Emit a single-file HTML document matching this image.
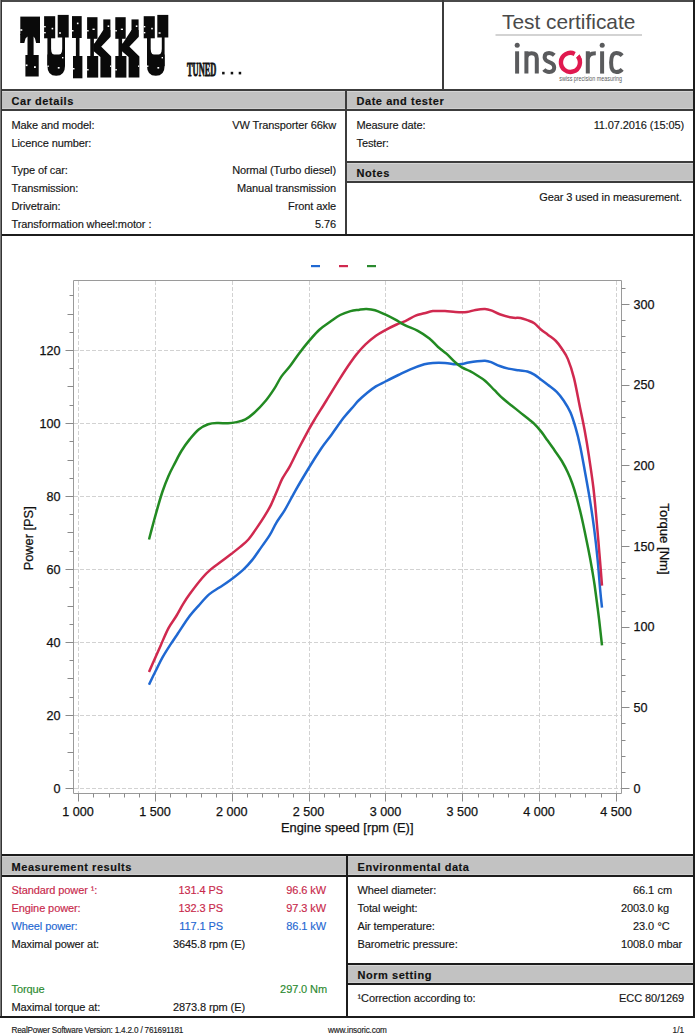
<!DOCTYPE html>
<html><head><meta charset="utf-8"><title>Test certificate</title>
<style>
html,body{margin:0;padding:0;background:#fff;}
body{width:695px;height:1034px;position:relative;overflow:hidden;font-family:"Liberation Sans",sans-serif;}
</style></head><body>
<svg style="position:absolute;left:0;top:0" width="695" height="1034" viewBox="0 0 695 1034" font-family="Liberation Sans, sans-serif"><text x="502" y="28.5" font-size="20.2" fill="#4a4a4a" textLength="133.4" lengthAdjust="spacingAndGlyphs">Test certificate</text>
<rect x="495.5" y="34.5" width="146.5" height="1" fill="#a8a8a8"/>
<g fill="none" stroke="#5a5b5d" stroke-width="4.0">
<line x1="517.1" y1="51.3" x2="517.1" y2="73.6"/>
<path d="M526.4,51.3 V73.6 M526.4,58.5 Q526.4,53.3 531.6,53.3 Q536.8,53.3 536.8,58.5 V73.6"/>
<path d="M554.3,55.2 Q552,53 549.1,53 Q544.6,53 544.6,57.3 Q544.6,60.6 549.3,62.2 Q554.2,63.8 554.2,67.6 Q554.2,72 549.2,72 Q545.8,72 543.9,69.6"/>
<path d="M587.8,51.3 V73.6 M587.8,59.5 Q587.8,53.2 595.8,53.2"/>
<line x1="602.1" y1="51.3" x2="602.1" y2="73.6"/>
<path d="M622.2,55.6 Q619.8,53 616.2,53 Q611.1,53 611.1,62.5 Q611.1,72 616.2,72 Q619.8,72 622.2,69.3"/>
</g>
<circle cx="517.2" cy="45.2" r="2.5" fill="#5a5b5d"/>
<circle cx="602.2" cy="45.2" r="2.5" fill="#5a5b5d"/>
<path d="M574.71,53.94 A9.5,9.5 0 1 0 577.68,56.29" fill="none" stroke="#e0194f" stroke-width="4.4"/>
<polygon points="576.5,57.5 579.6,54.3 582.2,60" fill="#e0194f"/>
<text x="559.2" y="80.6" font-size="6.6" fill="#5a5b5d" textLength="62.7" lengthAdjust="spacingAndGlyphs">swiss precision measuring</text>
<rect x="20.3" y="16.6" width="19.7" height="18.2" fill="#0a0a0a"/>
<polygon points="20.2,34.0 40.0,34.0 40.0,43.0 36.1,43.0 35.0,38.5 33.6,36.5 33.6,56.0 27.5,56.0 27.5,36.5 25.5,38.5 24.3,43.0 20.2,43.0" fill="#0a0a0a"/>
<rect x="25.4" y="55.0" width="13.3" height="21.5" fill="#0a0a0a"/>
<rect x="44.1" y="16.2" width="11.1" height="22.1" fill="#0a0a0a"/>
<rect x="57.7" y="14.9" width="11.0" height="22.6" fill="#0a0a0a"/>
<path fill-rule="evenodd" fill="#0a0a0a" d="M47.4,37 L47.4,66 Q47.4,75.8 56.2,75.8 Q65.0,75.8 65.0,66 L65.0,37 Z M51.1,37 L51.1,49 Q51.1,55.5 56.6,55.5 Q62.2,55.5 62.2,49 L62.2,37 Z"/>
<rect x="47.4" y="54.5" width="17.6" height="11.5" fill="#0a0a0a"/>
<rect x="72.0" y="16.1" width="9.7" height="21.9" fill="#0a0a0a"/>
<rect x="75.9" y="37.5" width="3.6" height="19.0" fill="#0a0a0a"/>
<rect x="73.0" y="56.0" width="9.4" height="22.3" fill="#0a0a0a"/>
<rect x="87.1" y="17.2" width="10.4" height="21.6" fill="#0a0a0a"/>
<rect x="90.3" y="38.0" width="3.6" height="18.5" fill="#0a0a0a"/>
<rect x="87.1" y="56.0" width="11.1" height="21.6" fill="#0a0a0a"/>
<rect x="103.3" y="19.4" width="7.1" height="17.2" fill="#0a0a0a"/>
<polygon points="103.3,30.0 110.4,30.0 110.4,37.0 97.5,50.5 93.5,50.5 93.5,45.0" fill="#0a0a0a"/>
<polygon points="93.5,43.5 98.0,43.5 111.2,56.5 111.2,77.6 100.4,77.6 100.4,57.0 93.5,51.0" fill="#0a0a0a"/>
<rect x="115.3" y="17.2" width="10.4" height="21.6" fill="#0a0a0a"/>
<rect x="118.5" y="38.0" width="3.6" height="18.5" fill="#0a0a0a"/>
<rect x="115.3" y="56.0" width="11.1" height="21.6" fill="#0a0a0a"/>
<rect x="131.5" y="19.4" width="7.1" height="17.2" fill="#0a0a0a"/>
<polygon points="131.5,30.0 138.6,30.0 138.6,37.0 125.7,50.5 121.7,50.5 121.7,45.0" fill="#0a0a0a"/>
<polygon points="121.7,43.5 126.2,43.5 139.4,56.5 139.4,77.6 128.6,77.6 128.6,57.0 121.7,51.0" fill="#0a0a0a"/>
<rect x="143.7" y="16.2" width="11.1" height="22.1" fill="#0a0a0a"/>
<rect x="157.3" y="14.9" width="11.0" height="22.6" fill="#0a0a0a"/>
<path fill-rule="evenodd" fill="#0a0a0a" d="M147.0,37 L147.0,66 Q147.0,75.8 155.8,75.8 Q164.6,75.8 164.6,66 L164.6,37 Z M150.7,37 L150.7,49 Q150.7,55.5 156.2,55.5 Q161.8,55.5 161.8,49 L161.8,37 Z"/>
<rect x="147.0" y="54.5" width="17.6" height="11.5" fill="#0a0a0a"/>
<rect x="20.3" y="29.2" width="2.0" height="1.6" fill="#fff"/>
<rect x="25.7" y="64.5" width="1.8" height="1.6" fill="#fff"/>
<rect x="34.0" y="66.2" width="1.8" height="1.8" fill="#fff"/>
<rect x="44.1" y="26.0" width="1.6" height="1.4" fill="#fff"/>
<rect x="44.1" y="32.0" width="1.6" height="1.4" fill="#fff"/>
<rect x="51.6" y="27.8" width="1.6" height="1.6" fill="#fff"/>
<rect x="59.0" y="32.3" width="2.0" height="1.4" fill="#fff"/>
<rect x="47.4" y="65.5" width="1.4" height="1.4" fill="#fff"/>
<rect x="62.0" y="57.0" width="1.4" height="1.4" fill="#fff"/>
<rect x="57.8" y="67.0" width="1.8" height="1.6" fill="#fff"/>
<rect x="72.0" y="30.0" width="1.5" height="1.5" fill="#fff"/>
<rect x="76.9" y="22.6" width="1.6" height="1.6" fill="#fff"/>
<rect x="73.0" y="68.0" width="1.5" height="1.5" fill="#fff"/>
<rect x="87.1" y="30.0" width="1.5" height="1.5" fill="#fff"/>
<rect x="92.5" y="28.6" width="2.2" height="1.4" fill="#fff"/>
<rect x="107.6" y="25.4" width="1.6" height="1.6" fill="#fff"/>
<rect x="87.1" y="69.0" width="1.5" height="1.5" fill="#fff"/>
<rect x="110.0" y="65.5" width="1.2" height="1.4" fill="#fff"/>
<rect x="115.3" y="30.0" width="1.5" height="1.5" fill="#fff"/>
<rect x="120.8" y="28.6" width="2.2" height="1.4" fill="#fff"/>
<rect x="135.8" y="25.4" width="1.6" height="1.6" fill="#fff"/>
<rect x="115.3" y="69.0" width="1.5" height="1.5" fill="#fff"/>
<rect x="138.0" y="65.5" width="1.2" height="1.4" fill="#fff"/>
<rect x="143.7" y="26.0" width="1.6" height="1.4" fill="#fff"/>
<rect x="143.7" y="32.0" width="1.6" height="1.4" fill="#fff"/>
<rect x="151.2" y="27.8" width="1.6" height="1.6" fill="#fff"/>
<rect x="158.6" y="32.3" width="2.0" height="1.4" fill="#fff"/>
<rect x="147.0" y="65.5" width="1.4" height="1.4" fill="#fff"/>
<rect x="161.6" y="57.0" width="1.4" height="1.4" fill="#fff"/>
<rect x="157.4" y="67.0" width="1.8" height="1.6" fill="#fff"/>
<text x="187" y="75.6" font-family="Liberation Serif" font-weight="bold" font-size="19" fill="#111" stroke="#111" stroke-width="0.9" textLength="29.3" lengthAdjust="spacingAndGlyphs">TUNED</text>
<rect x="222.10000000000002" y="71.8" width="2.5" height="2.6" fill="#111"/>
<rect x="230.70000000000002" y="71.8" width="2.5" height="2.6" fill="#111"/>
<rect x="238.70000000000002" y="71.8" width="2.5" height="2.6" fill="#111"/>
<path d="M73.5,793.5 L73.5,280.5 L621.5,280.5 L621.5,793.5 Z" fill="none" stroke="#9a9a9a" stroke-width="1"/>
<line x1="78.5" y1="281" x2="78.5" y2="793" stroke="#d2d2d2" stroke-width="1" stroke-dasharray="4,2"/>
<line x1="155.5" y1="281" x2="155.5" y2="793" stroke="#d2d2d2" stroke-width="1" stroke-dasharray="4,2"/>
<line x1="232.5" y1="281" x2="232.5" y2="793" stroke="#d2d2d2" stroke-width="1" stroke-dasharray="4,2"/>
<line x1="309.5" y1="281" x2="309.5" y2="793" stroke="#d2d2d2" stroke-width="1" stroke-dasharray="4,2"/>
<line x1="385.5" y1="281" x2="385.5" y2="793" stroke="#d2d2d2" stroke-width="1" stroke-dasharray="4,2"/>
<line x1="462.5" y1="281" x2="462.5" y2="793" stroke="#d2d2d2" stroke-width="1" stroke-dasharray="4,2"/>
<line x1="539.5" y1="281" x2="539.5" y2="793" stroke="#d2d2d2" stroke-width="1" stroke-dasharray="4,2"/>
<line x1="616.5" y1="281" x2="616.5" y2="793" stroke="#d2d2d2" stroke-width="1" stroke-dasharray="4,2"/>
<line x1="74" y1="788.5" x2="621" y2="788.5" stroke="#d2d2d2" stroke-width="1" stroke-dasharray="4,2"/>
<line x1="74" y1="715.5" x2="621" y2="715.5" stroke="#d2d2d2" stroke-width="1" stroke-dasharray="4,2"/>
<line x1="74" y1="642.5" x2="621" y2="642.5" stroke="#d2d2d2" stroke-width="1" stroke-dasharray="4,2"/>
<line x1="74" y1="569.5" x2="621" y2="569.5" stroke="#d2d2d2" stroke-width="1" stroke-dasharray="4,2"/>
<line x1="74" y1="496.5" x2="621" y2="496.5" stroke="#d2d2d2" stroke-width="1" stroke-dasharray="4,2"/>
<line x1="74" y1="423.5" x2="621" y2="423.5" stroke="#d2d2d2" stroke-width="1" stroke-dasharray="4,2"/>
<line x1="74" y1="350.5" x2="621" y2="350.5" stroke="#d2d2d2" stroke-width="1" stroke-dasharray="4,2"/>
<line x1="65.5" y1="788.5" x2="73.5" y2="788.5" stroke="#8a8a8a" stroke-width="1"/>
<line x1="69.5" y1="770.5" x2="73.5" y2="770.5" stroke="#8a8a8a" stroke-width="1"/>
<line x1="67.5" y1="752.5" x2="73.5" y2="752.5" stroke="#8a8a8a" stroke-width="1"/>
<line x1="69.5" y1="733.5" x2="73.5" y2="733.5" stroke="#8a8a8a" stroke-width="1"/>
<line x1="65.5" y1="715.5" x2="73.5" y2="715.5" stroke="#8a8a8a" stroke-width="1"/>
<line x1="69.5" y1="697.5" x2="73.5" y2="697.5" stroke="#8a8a8a" stroke-width="1"/>
<line x1="67.5" y1="678.5" x2="73.5" y2="678.5" stroke="#8a8a8a" stroke-width="1"/>
<line x1="69.5" y1="660.5" x2="73.5" y2="660.5" stroke="#8a8a8a" stroke-width="1"/>
<line x1="65.5" y1="642.5" x2="73.5" y2="642.5" stroke="#8a8a8a" stroke-width="1"/>
<line x1="69.5" y1="624.5" x2="73.5" y2="624.5" stroke="#8a8a8a" stroke-width="1"/>
<line x1="67.5" y1="606.5" x2="73.5" y2="606.5" stroke="#8a8a8a" stroke-width="1"/>
<line x1="69.5" y1="587.5" x2="73.5" y2="587.5" stroke="#8a8a8a" stroke-width="1"/>
<line x1="65.5" y1="569.5" x2="73.5" y2="569.5" stroke="#8a8a8a" stroke-width="1"/>
<line x1="69.5" y1="551.5" x2="73.5" y2="551.5" stroke="#8a8a8a" stroke-width="1"/>
<line x1="67.5" y1="532.5" x2="73.5" y2="532.5" stroke="#8a8a8a" stroke-width="1"/>
<line x1="69.5" y1="514.5" x2="73.5" y2="514.5" stroke="#8a8a8a" stroke-width="1"/>
<line x1="65.5" y1="496.5" x2="73.5" y2="496.5" stroke="#8a8a8a" stroke-width="1"/>
<line x1="69.5" y1="478.5" x2="73.5" y2="478.5" stroke="#8a8a8a" stroke-width="1"/>
<line x1="67.5" y1="460.5" x2="73.5" y2="460.5" stroke="#8a8a8a" stroke-width="1"/>
<line x1="69.5" y1="441.5" x2="73.5" y2="441.5" stroke="#8a8a8a" stroke-width="1"/>
<line x1="65.5" y1="423.5" x2="73.5" y2="423.5" stroke="#8a8a8a" stroke-width="1"/>
<line x1="69.5" y1="405.5" x2="73.5" y2="405.5" stroke="#8a8a8a" stroke-width="1"/>
<line x1="67.5" y1="386.5" x2="73.5" y2="386.5" stroke="#8a8a8a" stroke-width="1"/>
<line x1="69.5" y1="368.5" x2="73.5" y2="368.5" stroke="#8a8a8a" stroke-width="1"/>
<line x1="65.5" y1="350.5" x2="73.5" y2="350.5" stroke="#8a8a8a" stroke-width="1"/>
<line x1="69.5" y1="332.5" x2="73.5" y2="332.5" stroke="#8a8a8a" stroke-width="1"/>
<line x1="67.5" y1="314.5" x2="73.5" y2="314.5" stroke="#8a8a8a" stroke-width="1"/>
<line x1="69.5" y1="295.5" x2="73.5" y2="295.5" stroke="#8a8a8a" stroke-width="1"/>
<line x1="621.5" y1="788.5" x2="629.5" y2="788.5" stroke="#8a8a8a" stroke-width="1"/>
<line x1="621.5" y1="772.5" x2="625.5" y2="772.5" stroke="#8a8a8a" stroke-width="1"/>
<line x1="621.5" y1="756.5" x2="625.5" y2="756.5" stroke="#8a8a8a" stroke-width="1"/>
<line x1="621.5" y1="740.5" x2="625.5" y2="740.5" stroke="#8a8a8a" stroke-width="1"/>
<line x1="621.5" y1="723.5" x2="625.5" y2="723.5" stroke="#8a8a8a" stroke-width="1"/>
<line x1="621.5" y1="707.5" x2="629.5" y2="707.5" stroke="#8a8a8a" stroke-width="1"/>
<line x1="621.5" y1="691.5" x2="625.5" y2="691.5" stroke="#8a8a8a" stroke-width="1"/>
<line x1="621.5" y1="675.5" x2="625.5" y2="675.5" stroke="#8a8a8a" stroke-width="1"/>
<line x1="621.5" y1="659.5" x2="625.5" y2="659.5" stroke="#8a8a8a" stroke-width="1"/>
<line x1="621.5" y1="643.5" x2="625.5" y2="643.5" stroke="#8a8a8a" stroke-width="1"/>
<line x1="621.5" y1="627.5" x2="629.5" y2="627.5" stroke="#8a8a8a" stroke-width="1"/>
<line x1="621.5" y1="611.5" x2="625.5" y2="611.5" stroke="#8a8a8a" stroke-width="1"/>
<line x1="621.5" y1="594.5" x2="625.5" y2="594.5" stroke="#8a8a8a" stroke-width="1"/>
<line x1="621.5" y1="578.5" x2="625.5" y2="578.5" stroke="#8a8a8a" stroke-width="1"/>
<line x1="621.5" y1="562.5" x2="625.5" y2="562.5" stroke="#8a8a8a" stroke-width="1"/>
<line x1="621.5" y1="546.5" x2="629.5" y2="546.5" stroke="#8a8a8a" stroke-width="1"/>
<line x1="621.5" y1="530.5" x2="625.5" y2="530.5" stroke="#8a8a8a" stroke-width="1"/>
<line x1="621.5" y1="514.5" x2="625.5" y2="514.5" stroke="#8a8a8a" stroke-width="1"/>
<line x1="621.5" y1="498.5" x2="625.5" y2="498.5" stroke="#8a8a8a" stroke-width="1"/>
<line x1="621.5" y1="481.5" x2="625.5" y2="481.5" stroke="#8a8a8a" stroke-width="1"/>
<line x1="621.5" y1="465.5" x2="629.5" y2="465.5" stroke="#8a8a8a" stroke-width="1"/>
<line x1="621.5" y1="449.5" x2="625.5" y2="449.5" stroke="#8a8a8a" stroke-width="1"/>
<line x1="621.5" y1="433.5" x2="625.5" y2="433.5" stroke="#8a8a8a" stroke-width="1"/>
<line x1="621.5" y1="417.5" x2="625.5" y2="417.5" stroke="#8a8a8a" stroke-width="1"/>
<line x1="621.5" y1="401.5" x2="625.5" y2="401.5" stroke="#8a8a8a" stroke-width="1"/>
<line x1="621.5" y1="385.5" x2="629.5" y2="385.5" stroke="#8a8a8a" stroke-width="1"/>
<line x1="621.5" y1="369.5" x2="625.5" y2="369.5" stroke="#8a8a8a" stroke-width="1"/>
<line x1="621.5" y1="352.5" x2="625.5" y2="352.5" stroke="#8a8a8a" stroke-width="1"/>
<line x1="621.5" y1="336.5" x2="625.5" y2="336.5" stroke="#8a8a8a" stroke-width="1"/>
<line x1="621.5" y1="320.5" x2="625.5" y2="320.5" stroke="#8a8a8a" stroke-width="1"/>
<line x1="621.5" y1="304.5" x2="629.5" y2="304.5" stroke="#8a8a8a" stroke-width="1"/>
<line x1="621.5" y1="288.5" x2="625.5" y2="288.5" stroke="#8a8a8a" stroke-width="1"/>
<line x1="78.5" y1="793.5" x2="78.5" y2="801.5" stroke="#8a8a8a" stroke-width="1"/>
<line x1="93.5" y1="793.5" x2="93.5" y2="797.5" stroke="#8a8a8a" stroke-width="1"/>
<line x1="109.5" y1="793.5" x2="109.5" y2="797.5" stroke="#8a8a8a" stroke-width="1"/>
<line x1="124.5" y1="793.5" x2="124.5" y2="797.5" stroke="#8a8a8a" stroke-width="1"/>
<line x1="139.5" y1="793.5" x2="139.5" y2="797.5" stroke="#8a8a8a" stroke-width="1"/>
<line x1="155.5" y1="793.5" x2="155.5" y2="801.5" stroke="#8a8a8a" stroke-width="1"/>
<line x1="170.5" y1="793.5" x2="170.5" y2="797.5" stroke="#8a8a8a" stroke-width="1"/>
<line x1="186.5" y1="793.5" x2="186.5" y2="797.5" stroke="#8a8a8a" stroke-width="1"/>
<line x1="201.5" y1="793.5" x2="201.5" y2="797.5" stroke="#8a8a8a" stroke-width="1"/>
<line x1="216.5" y1="793.5" x2="216.5" y2="797.5" stroke="#8a8a8a" stroke-width="1"/>
<line x1="232.5" y1="793.5" x2="232.5" y2="801.5" stroke="#8a8a8a" stroke-width="1"/>
<line x1="247.5" y1="793.5" x2="247.5" y2="797.5" stroke="#8a8a8a" stroke-width="1"/>
<line x1="262.5" y1="793.5" x2="262.5" y2="797.5" stroke="#8a8a8a" stroke-width="1"/>
<line x1="278.5" y1="793.5" x2="278.5" y2="797.5" stroke="#8a8a8a" stroke-width="1"/>
<line x1="293.5" y1="793.5" x2="293.5" y2="797.5" stroke="#8a8a8a" stroke-width="1"/>
<line x1="309.5" y1="793.5" x2="309.5" y2="801.5" stroke="#8a8a8a" stroke-width="1"/>
<line x1="324.5" y1="793.5" x2="324.5" y2="797.5" stroke="#8a8a8a" stroke-width="1"/>
<line x1="339.5" y1="793.5" x2="339.5" y2="797.5" stroke="#8a8a8a" stroke-width="1"/>
<line x1="355.5" y1="793.5" x2="355.5" y2="797.5" stroke="#8a8a8a" stroke-width="1"/>
<line x1="370.5" y1="793.5" x2="370.5" y2="797.5" stroke="#8a8a8a" stroke-width="1"/>
<line x1="385.5" y1="793.5" x2="385.5" y2="801.5" stroke="#8a8a8a" stroke-width="1"/>
<line x1="401.5" y1="793.5" x2="401.5" y2="797.5" stroke="#8a8a8a" stroke-width="1"/>
<line x1="416.5" y1="793.5" x2="416.5" y2="797.5" stroke="#8a8a8a" stroke-width="1"/>
<line x1="432.5" y1="793.5" x2="432.5" y2="797.5" stroke="#8a8a8a" stroke-width="1"/>
<line x1="447.5" y1="793.5" x2="447.5" y2="797.5" stroke="#8a8a8a" stroke-width="1"/>
<line x1="462.5" y1="793.5" x2="462.5" y2="801.5" stroke="#8a8a8a" stroke-width="1"/>
<line x1="478.5" y1="793.5" x2="478.5" y2="797.5" stroke="#8a8a8a" stroke-width="1"/>
<line x1="493.5" y1="793.5" x2="493.5" y2="797.5" stroke="#8a8a8a" stroke-width="1"/>
<line x1="508.5" y1="793.5" x2="508.5" y2="797.5" stroke="#8a8a8a" stroke-width="1"/>
<line x1="524.5" y1="793.5" x2="524.5" y2="797.5" stroke="#8a8a8a" stroke-width="1"/>
<line x1="539.5" y1="793.5" x2="539.5" y2="801.5" stroke="#8a8a8a" stroke-width="1"/>
<line x1="555.5" y1="793.5" x2="555.5" y2="797.5" stroke="#8a8a8a" stroke-width="1"/>
<line x1="570.5" y1="793.5" x2="570.5" y2="797.5" stroke="#8a8a8a" stroke-width="1"/>
<line x1="585.5" y1="793.5" x2="585.5" y2="797.5" stroke="#8a8a8a" stroke-width="1"/>
<line x1="601.5" y1="793.5" x2="601.5" y2="797.5" stroke="#8a8a8a" stroke-width="1"/>
<line x1="616.5" y1="793.5" x2="616.5" y2="801.5" stroke="#8a8a8a" stroke-width="1"/>
<text x="60.5" y="792.6" font-size="12.6" fill="#111" stroke="#111" stroke-width="0.25" text-anchor="end">0</text>
<text x="60.5" y="719.6" font-size="12.6" fill="#111" stroke="#111" stroke-width="0.25" text-anchor="end">20</text>
<text x="60.5" y="646.6" font-size="12.6" fill="#111" stroke="#111" stroke-width="0.25" text-anchor="end">40</text>
<text x="60.5" y="573.6" font-size="12.6" fill="#111" stroke="#111" stroke-width="0.25" text-anchor="end">60</text>
<text x="60.5" y="500.6" font-size="12.6" fill="#111" stroke="#111" stroke-width="0.25" text-anchor="end">80</text>
<text x="60.5" y="427.6" font-size="12.6" fill="#111" stroke="#111" stroke-width="0.25" text-anchor="end">100</text>
<text x="60.5" y="354.6" font-size="12.6" fill="#111" stroke="#111" stroke-width="0.25" text-anchor="end">120</text>
<text x="633.5" y="792.6" font-size="12.6" fill="#111" stroke="#111" stroke-width="0.25">0</text>
<text x="633.5" y="711.9" font-size="12.6" fill="#111" stroke="#111" stroke-width="0.25">50</text>
<text x="633.5" y="631.3" font-size="12.6" fill="#111" stroke="#111" stroke-width="0.25">100</text>
<text x="633.5" y="550.6" font-size="12.6" fill="#111" stroke="#111" stroke-width="0.25">150</text>
<text x="633.5" y="469.9" font-size="12.6" fill="#111" stroke="#111" stroke-width="0.25">200</text>
<text x="633.5" y="389.3" font-size="12.6" fill="#111" stroke="#111" stroke-width="0.25">250</text>
<text x="633.5" y="308.6" font-size="12.6" fill="#111" stroke="#111" stroke-width="0.25">300</text>
<text x="78.0" y="816.3" font-size="12.6" fill="#111" stroke="#111" stroke-width="0.25" text-anchor="middle">1&#160;000</text>
<text x="154.9" y="816.3" font-size="12.6" fill="#111" stroke="#111" stroke-width="0.25" text-anchor="middle">1&#160;500</text>
<text x="231.7" y="816.3" font-size="12.6" fill="#111" stroke="#111" stroke-width="0.25" text-anchor="middle">2&#160;000</text>
<text x="308.6" y="816.3" font-size="12.6" fill="#111" stroke="#111" stroke-width="0.25" text-anchor="middle">2&#160;500</text>
<text x="385.4" y="816.3" font-size="12.6" fill="#111" stroke="#111" stroke-width="0.25" text-anchor="middle">3&#160;000</text>
<text x="462.3" y="816.3" font-size="12.6" fill="#111" stroke="#111" stroke-width="0.25" text-anchor="middle">3&#160;500</text>
<text x="539.1" y="816.3" font-size="12.6" fill="#111" stroke="#111" stroke-width="0.25" text-anchor="middle">4&#160;000</text>
<text x="616.0" y="816.3" font-size="12.6" fill="#111" stroke="#111" stroke-width="0.25" text-anchor="middle">4&#160;500</text>
<text x="347.2" y="832.3" font-size="12.9" fill="#111" stroke="#111" stroke-width="0.25" text-anchor="middle">Engine speed [rpm (E)]</text>
<text transform="translate(33.3,538.3) rotate(-90)" font-size="12.8" fill="#111" stroke="#111" stroke-width="0.25" text-anchor="middle">Power [PS]</text>
<text transform="translate(659.5,539) rotate(90)" font-size="13.1" fill="#111" stroke="#111" stroke-width="0.25" text-anchor="middle">Torque [Nm]</text>
<rect x="311" y="265" width="9" height="2.2" fill="#1f68d2"/>
<rect x="339" y="265" width="9" height="2.2" fill="#d0294f"/>
<rect x="367" y="265" width="9" height="2.2" fill="#2b8a2f"/>
<path d="M149.0,684.7 C150.1,682.5 153.2,675.8 155.5,671.3 C157.8,666.8 159.9,662.0 162.5,657.4 C165.1,652.8 168.5,647.6 171.1,643.6 C173.7,639.6 175.1,637.6 178.0,633.3 C180.9,629.0 185.0,622.3 188.4,617.7 C191.8,613.1 195.2,609.5 198.7,605.6 C202.1,601.7 205.6,597.4 209.1,594.4 C212.6,591.4 215.9,589.8 219.4,587.5 C222.9,585.2 225.8,583.6 229.8,580.6 C233.8,577.6 239.8,572.9 243.6,569.4 C247.3,565.9 249.7,563.1 252.3,559.9 C254.9,556.7 256.1,554.4 259.0,550.4 C261.9,546.4 266.5,540.3 269.4,535.7 C272.3,531.1 273.7,527.1 276.3,522.8 C278.9,518.5 281.7,515.1 284.9,509.8 C288.1,504.5 291.3,497.9 295.3,490.8 C299.3,483.8 304.8,474.6 309.1,467.5 C313.4,460.4 317.5,454.0 321.2,448.5 C324.9,443.0 327.8,439.8 331.5,434.7 C335.2,429.6 339.9,422.6 343.6,417.8 C347.4,413.0 351.5,408.6 354.0,405.7 C356.5,402.8 356.4,402.6 358.6,400.5 C360.8,398.4 364.4,395.2 367.3,392.8 C370.2,390.4 372.9,388.3 375.9,386.4 C378.9,384.5 381.6,383.4 385.4,381.5 C389.1,379.6 394.2,377.0 398.4,375.0 C402.6,373.0 406.1,371.2 410.4,369.4 C414.7,367.6 420.6,365.4 424.3,364.3 C428.1,363.2 429.4,363.1 432.9,362.9 C436.3,362.7 441.2,362.7 445.0,362.9 C448.8,363.1 452.5,364.1 455.4,364.3 C458.3,364.5 460.1,364.2 462.3,363.9 C464.5,363.6 466.1,362.9 468.6,362.5 C471.1,362.1 474.6,361.6 477.3,361.3 C480.0,361.0 482.7,360.7 485.0,360.8 C487.3,360.9 488.7,361.3 491.1,362.2 C493.6,363.1 496.8,364.9 499.7,366.0 C502.6,367.1 505.2,367.9 508.4,368.6 C511.6,369.3 515.5,369.8 518.7,370.3 C521.9,370.8 524.8,370.8 527.4,371.5 C530.0,372.2 532.0,373.2 534.3,374.6 C536.6,376.0 538.9,378.1 541.2,379.8 C543.5,381.5 545.5,383.0 548.1,385.0 C550.7,387.0 554.1,389.3 556.7,391.9 C559.3,394.5 561.3,397.1 563.6,400.5 C565.9,403.9 568.5,408.0 570.5,412.6 C572.5,417.2 574.1,422.7 575.7,428.2 C577.3,433.7 578.5,438.5 580.0,445.4 C581.5,452.3 583.0,460.8 584.6,469.7 C586.2,478.6 588.2,489.3 589.8,499.1 C591.4,508.9 592.8,518.3 594.1,528.4 C595.4,538.5 596.6,549.2 597.6,559.5 C598.6,569.8 599.5,582.1 600.2,590.1 C600.9,598.1 601.7,604.7 602.0,607.6" fill="none" stroke="#1f68d2" stroke-width="2.5" stroke-linejoin="round"/>
<path d="M149.0,672.1 C149.8,670.2 151.9,665.4 153.8,660.9 C155.8,656.4 158.2,650.9 160.7,645.4 C163.1,639.9 165.9,633.0 168.5,628.1 C171.1,623.2 173.9,620.0 176.3,616.0 C178.8,612.0 180.9,607.6 183.2,603.9 C185.5,600.1 186.9,597.8 190.1,593.5 C193.3,589.2 198.8,582.0 202.2,578.0 C205.6,574.0 207.6,572.1 210.8,569.4 C214.0,566.7 217.8,564.2 221.2,561.6 C224.6,559.0 228.3,556.2 231.5,553.8 C234.7,551.3 237.3,549.3 240.2,546.9 C243.0,544.5 245.8,542.5 248.6,539.2 C251.4,535.9 254.7,530.9 257.3,527.1 C259.9,523.4 261.9,520.5 264.2,516.7 C266.5,513.0 269.0,508.9 271.1,504.6 C273.2,500.3 275.2,495.1 277.1,490.8 C279.0,486.5 280.1,482.9 282.3,478.7 C284.5,474.5 287.4,470.8 290.1,465.8 C292.8,460.8 295.8,454.1 298.7,448.5 C301.6,442.9 304.8,436.9 307.4,432.1 C310.0,427.4 311.1,425.3 314.3,420.0 C317.5,414.7 322.1,407.5 326.4,400.5 C330.7,393.5 336.2,384.4 340.2,378.1 C344.2,371.8 347.7,366.5 350.5,362.5 C353.3,358.5 354.4,356.9 356.9,353.9 C359.4,350.9 362.3,347.4 365.5,344.4 C368.7,341.4 372.6,338.2 375.9,335.8 C379.2,333.4 381.9,332.0 385.4,330.1 C388.8,328.2 393.3,326.0 396.6,324.5 C399.9,323.0 402.1,322.6 405.3,321.1 C408.5,319.6 412.4,316.9 415.6,315.6 C418.8,314.3 421.4,314.1 424.3,313.3 C427.2,312.6 429.4,311.5 432.9,311.1 C436.3,310.7 441.2,310.9 445.0,311.1 C448.8,311.3 451.8,311.9 455.4,312.1 C459.0,312.3 463.5,312.5 466.9,312.1 C470.2,311.7 472.5,310.4 475.5,309.9 C478.5,309.4 482.4,308.9 485.0,309.0 C487.6,309.1 488.7,309.5 491.1,310.4 C493.6,311.3 496.2,313.0 499.7,314.2 C503.1,315.4 508.4,317.0 511.8,317.6 C515.2,318.2 517.8,317.6 520.4,318.0 C523.0,318.4 525.1,319.3 527.4,320.2 C529.7,321.1 532.0,321.7 534.3,323.3 C536.6,324.9 538.9,327.8 541.2,329.7 C543.5,331.6 545.7,333.0 548.1,334.9 C550.5,336.8 553.6,338.7 555.9,341.0 C558.2,343.3 559.9,345.7 561.9,348.7 C563.9,351.7 565.9,354.2 567.9,359.1 C569.9,364.0 572.0,370.1 574.0,378.1 C576.0,386.2 578.2,398.8 580.0,407.4 C581.8,416.0 583.1,421.9 584.6,430.0 C586.1,438.1 587.5,446.4 588.9,455.9 C590.3,465.4 592.1,477.0 593.3,487.0 C594.5,497.0 595.4,507.2 596.2,516.0 C597.0,524.8 597.5,531.2 598.3,540.0 C599.0,548.8 600.1,561.4 600.7,569.0 C601.3,576.6 601.8,582.9 602.0,585.7" fill="none" stroke="#d0294f" stroke-width="2.5" stroke-linejoin="round"/>
<path d="M149.0,539.5 C149.7,537.0 151.6,529.4 153.0,524.3 C154.4,519.2 155.7,514.3 157.3,508.8 C158.9,503.3 160.6,497.0 162.5,491.5 C164.4,486.0 166.5,480.6 168.5,476.0 C170.5,471.4 172.3,468.1 174.5,463.9 C176.7,459.7 178.8,455.2 181.4,451.0 C184.0,446.8 187.1,442.5 190.0,438.9 C192.9,435.3 195.7,431.8 198.7,429.4 C201.7,426.9 205.0,425.3 208.2,424.2 C211.4,423.1 214.4,423.1 217.7,423.0 C221.0,422.9 224.8,423.4 228.0,423.3 C231.2,423.2 233.8,422.8 236.7,422.1 C239.6,421.4 242.5,420.8 245.4,419.3 C248.3,417.8 250.6,416.1 254.0,413.0 C257.4,409.9 262.5,404.6 265.9,400.5 C269.3,396.4 271.9,392.4 274.5,388.4 C277.1,384.4 278.9,380.1 281.5,376.4 C284.1,372.7 287.2,369.8 290.1,366.0 C293.0,362.2 295.5,358.1 298.7,353.9 C301.9,349.7 305.7,344.9 309.1,340.9 C312.6,336.9 315.9,332.8 319.4,329.7 C322.8,326.6 326.3,324.4 329.8,322.0 C333.3,319.6 336.8,316.8 340.2,315.0 C343.6,313.2 347.4,312.0 350.5,311.1 C353.6,310.2 356.0,310.2 358.6,309.9 C361.2,309.5 363.7,308.9 366.4,309.0 C369.1,309.1 372.0,309.3 375.0,310.2 C378.0,311.1 381.2,312.7 384.5,314.2 C387.8,315.7 391.4,317.5 394.9,319.4 C398.4,321.3 401.6,323.5 405.3,325.4 C409.1,327.3 413.4,328.4 417.4,330.6 C421.4,332.8 425.9,335.7 429.4,338.4 C432.8,341.1 435.2,344.4 438.1,347.0 C441.0,349.6 443.8,351.3 446.7,353.9 C449.6,356.5 452.8,360.2 455.4,362.5 C458.0,364.8 459.9,366.2 462.3,367.7 C464.7,369.1 467.5,369.9 470.0,371.2 C472.5,372.5 474.8,373.9 477.3,375.5 C479.8,377.1 482.1,378.2 485.0,380.7 C487.9,383.1 491.5,387.2 494.5,390.2 C497.5,393.2 500.3,396.2 503.2,398.8 C506.1,401.4 508.9,403.4 511.8,405.7 C514.7,408.0 517.5,410.3 520.4,412.6 C523.3,414.9 526.8,417.6 529.1,419.5 C531.4,421.4 532.3,421.9 534.3,423.9 C536.3,425.9 539.0,428.9 541.2,431.6 C543.4,434.3 545.1,437.1 547.4,440.3 C549.7,443.5 552.4,447.2 554.8,450.7 C557.2,454.1 559.7,457.4 561.8,461.0 C563.9,464.6 565.9,468.2 567.6,472.0 C569.4,475.8 570.9,479.5 572.3,483.5 C573.7,487.5 574.9,491.2 576.2,496.0 C577.6,500.8 579.0,506.3 580.4,512.0 C581.8,517.7 583.1,523.8 584.4,530.0 C585.7,536.2 587.0,542.5 588.3,549.0 C589.6,555.5 591.0,563.0 592.0,569.0 C593.0,575.0 593.8,579.3 594.6,585.0 C595.4,590.7 596.2,596.7 597.0,603.0 C597.8,609.3 598.7,615.9 599.5,623.0 C600.3,630.1 601.6,641.7 602.0,645.4" fill="none" stroke="#228a22" stroke-width="2.5" stroke-linejoin="round"/></svg>
<div style="position:absolute;left:0px;top:0px;width:695px;height:2px;background:#4a4a4a"></div>
<div style="position:absolute;left:0px;top:0px;width:1px;height:1018px;background:#7a7a7a"></div>
<div style="position:absolute;left:1px;top:0px;width:1px;height:1018px;background:#343434"></div>
<div style="position:absolute;left:693px;top:0px;width:2px;height:1018px;background:#1c1c1c"></div>
<div style="position:absolute;left:0px;top:1016px;width:695px;height:2px;background:#1c1c1c"></div>
<div style="position:absolute;left:442px;top:0px;width:2px;height:90px;background:#3c3c3c"></div>
<div style="position:absolute;left:2px;top:89px;width:691px;height:2px;background:#3c3c3c"></div>
<div style="position:absolute;left:2px;top:91px;width:691px;height:18px;background:#c2c2c2"></div>
<div style="position:absolute;left:2px;top:91px;width:691px;height:1px;background:#d4d4d4"></div>
<div style="position:absolute;left:2px;top:108px;width:691px;height:1px;background:#d0d0d0"></div>
<div style="position:absolute;left:2px;top:109px;width:691px;height:2px;background:#3c3c3c"></div>
<div style="position:absolute;left:345px;top:89px;width:2px;height:147px;background:#3c3c3c"></div>
<div style="position:absolute;left:347px;top:161px;width:346px;height:2px;background:#3c3c3c"></div>
<div style="position:absolute;left:347px;top:163px;width:346px;height:18px;background:#c2c2c2"></div>
<div style="position:absolute;left:347px;top:163px;width:346px;height:1px;background:#d4d4d4"></div>
<div style="position:absolute;left:347px;top:180px;width:346px;height:1px;background:#d0d0d0"></div>
<div style="position:absolute;left:347px;top:181px;width:346px;height:2px;background:#3c3c3c"></div>
<div style="position:absolute;left:2px;top:234px;width:691px;height:2px;background:#1c1c1c"></div>
<div style="position:absolute;left:2px;top:854px;width:691px;height:2px;background:#1c1c1c"></div>
<div style="position:absolute;left:2px;top:856px;width:691px;height:19px;background:#c2c2c2"></div>
<div style="position:absolute;left:2px;top:856px;width:691px;height:1px;background:#d4d4d4"></div>
<div style="position:absolute;left:2px;top:874px;width:691px;height:1px;background:#d0d0d0"></div>
<div style="position:absolute;left:2px;top:875px;width:691px;height:2px;background:#1c1c1c"></div>
<div style="position:absolute;left:346px;top:854px;width:2px;height:163px;background:#1c1c1c"></div>
<div style="position:absolute;left:348px;top:963px;width:345px;height:2px;background:#1c1c1c"></div>
<div style="position:absolute;left:348px;top:965px;width:345px;height:18px;background:#c2c2c2"></div>
<div style="position:absolute;left:348px;top:965px;width:345px;height:1px;background:#d4d4d4"></div>
<div style="position:absolute;left:348px;top:982px;width:345px;height:1px;background:#d0d0d0"></div>
<div style="position:absolute;left:348px;top:983px;width:345px;height:2px;background:#1c1c1c"></div>
<div style="position:absolute;top:95.69px;font-size:11px;line-height:11px;white-space:nowrap;color:#111;font-weight:bold;letter-spacing:0.55px;-webkit-text-stroke:0.15px currentColor;left:11.5px;">Car details</div>
<div style="position:absolute;top:95.69px;font-size:11px;line-height:11px;white-space:nowrap;color:#111;font-weight:bold;letter-spacing:0.55px;-webkit-text-stroke:0.15px currentColor;left:356.5px;">Date and tester</div>
<div style="position:absolute;top:167.69px;font-size:11px;line-height:11px;white-space:nowrap;color:#111;font-weight:bold;letter-spacing:0.55px;-webkit-text-stroke:0.15px currentColor;left:356.5px;">Notes</div>
<div style="position:absolute;top:861.69px;font-size:11px;line-height:11px;white-space:nowrap;color:#111;font-weight:bold;letter-spacing:0.55px;-webkit-text-stroke:0.15px currentColor;left:11.5px;">Measurement results</div>
<div style="position:absolute;top:861.69px;font-size:11px;line-height:11px;white-space:nowrap;color:#111;font-weight:bold;letter-spacing:0.55px;-webkit-text-stroke:0.15px currentColor;left:357.5px;">Environmental data</div>
<div style="position:absolute;top:969.69px;font-size:11px;line-height:11px;white-space:nowrap;color:#111;font-weight:bold;letter-spacing:0.55px;-webkit-text-stroke:0.15px currentColor;left:357.5px;">Norm setting</div>
<div style="position:absolute;top:119.69px;font-size:11px;line-height:11px;white-space:nowrap;color:#161616;letter-spacing:-0.1px;-webkit-text-stroke:0.15px currentColor;left:11.5px;">Make and model:</div>
<div style="position:absolute;top:137.69px;font-size:11px;line-height:11px;white-space:nowrap;color:#161616;letter-spacing:-0.1px;-webkit-text-stroke:0.15px currentColor;left:11.5px;">Licence number:</div>
<div style="position:absolute;top:164.69px;font-size:11px;line-height:11px;white-space:nowrap;color:#161616;letter-spacing:-0.1px;-webkit-text-stroke:0.15px currentColor;left:11.5px;">Type of car:</div>
<div style="position:absolute;top:182.69px;font-size:11px;line-height:11px;white-space:nowrap;color:#161616;letter-spacing:-0.1px;-webkit-text-stroke:0.15px currentColor;left:11.5px;">Transmission:</div>
<div style="position:absolute;top:200.69px;font-size:11px;line-height:11px;white-space:nowrap;color:#161616;letter-spacing:-0.1px;-webkit-text-stroke:0.15px currentColor;left:11.5px;">Drivetrain:</div>
<div style="position:absolute;top:218.69px;font-size:11px;line-height:11px;white-space:nowrap;color:#161616;letter-spacing:-0.1px;-webkit-text-stroke:0.15px currentColor;left:11.5px;">Transformation wheel:motor :</div>
<div style="position:absolute;top:119.69px;font-size:11px;line-height:11px;white-space:nowrap;color:#161616;letter-spacing:-0.1px;-webkit-text-stroke:0.15px currentColor;right:359px;text-align:right;">VW Transporter 66kw</div>
<div style="position:absolute;top:164.69px;font-size:11px;line-height:11px;white-space:nowrap;color:#161616;letter-spacing:-0.1px;-webkit-text-stroke:0.15px currentColor;right:359px;text-align:right;">Normal (Turbo diesel)</div>
<div style="position:absolute;top:182.69px;font-size:11px;line-height:11px;white-space:nowrap;color:#161616;letter-spacing:-0.1px;-webkit-text-stroke:0.15px currentColor;right:359px;text-align:right;">Manual transmission</div>
<div style="position:absolute;top:200.69px;font-size:11px;line-height:11px;white-space:nowrap;color:#161616;letter-spacing:-0.1px;-webkit-text-stroke:0.15px currentColor;right:359px;text-align:right;">Front axle</div>
<div style="position:absolute;top:218.69px;font-size:11px;line-height:11px;white-space:nowrap;color:#161616;letter-spacing:-0.1px;-webkit-text-stroke:0.15px currentColor;right:359px;text-align:right;">5.76</div>
<div style="position:absolute;top:119.69px;font-size:11px;line-height:11px;white-space:nowrap;color:#161616;letter-spacing:-0.1px;-webkit-text-stroke:0.15px currentColor;left:356.5px;">Measure date:</div>
<div style="position:absolute;top:137.69px;font-size:11px;line-height:11px;white-space:nowrap;color:#161616;letter-spacing:-0.1px;-webkit-text-stroke:0.15px currentColor;left:356.5px;">Tester:</div>
<div style="position:absolute;top:119.69px;font-size:11px;line-height:11px;white-space:nowrap;color:#161616;letter-spacing:-0.1px;-webkit-text-stroke:0.15px currentColor;right:11px;text-align:right;">11.07.2016 (15:05)</div>
<div style="position:absolute;top:191.69px;font-size:11px;line-height:11px;white-space:nowrap;color:#161616;letter-spacing:-0.1px;-webkit-text-stroke:0.15px currentColor;right:13px;text-align:right;">Gear 3 used in measurement.</div>
<div style="position:absolute;top:884.69px;font-size:11px;line-height:11px;white-space:nowrap;color:#c8294b;letter-spacing:-0.1px;-webkit-text-stroke:0.15px currentColor;left:11.5px;">Standard power &sup1;:</div>
<div style="position:absolute;top:902.69px;font-size:11px;line-height:11px;white-space:nowrap;color:#c8294b;letter-spacing:-0.1px;-webkit-text-stroke:0.15px currentColor;left:11.5px;">Engine power:</div>
<div style="position:absolute;top:920.69px;font-size:11px;line-height:11px;white-space:nowrap;color:#1f68d2;letter-spacing:-0.1px;-webkit-text-stroke:0.15px currentColor;left:11.5px;">Wheel power:</div>
<div style="position:absolute;top:938.69px;font-size:11px;line-height:11px;white-space:nowrap;color:#161616;letter-spacing:-0.1px;-webkit-text-stroke:0.15px currentColor;left:11.5px;">Maximal power at:</div>
<div style="position:absolute;top:983.69px;font-size:11px;line-height:11px;white-space:nowrap;color:#2b8a2f;letter-spacing:-0.1px;-webkit-text-stroke:0.15px currentColor;left:11.5px;">Torque</div>
<div style="position:absolute;top:1001.69px;font-size:11px;line-height:11px;white-space:nowrap;color:#161616;letter-spacing:-0.1px;-webkit-text-stroke:0.15px currentColor;left:11.5px;">Maximal torque at:</div>
<div style="position:absolute;top:884.69px;font-size:11px;line-height:11px;white-space:nowrap;color:#c8294b;letter-spacing:-0.1px;-webkit-text-stroke:0.15px currentColor;right:472px;text-align:right;">131.4 PS</div>
<div style="position:absolute;top:902.69px;font-size:11px;line-height:11px;white-space:nowrap;color:#c8294b;letter-spacing:-0.1px;-webkit-text-stroke:0.15px currentColor;right:472px;text-align:right;">132.3 PS</div>
<div style="position:absolute;top:920.69px;font-size:11px;line-height:11px;white-space:nowrap;color:#1f68d2;letter-spacing:-0.1px;-webkit-text-stroke:0.15px currentColor;right:472px;text-align:right;">117.1 PS</div>
<div style="position:absolute;top:884.69px;font-size:11px;line-height:11px;white-space:nowrap;color:#c8294b;letter-spacing:-0.1px;-webkit-text-stroke:0.15px currentColor;right:369px;text-align:right;">96.6 kW</div>
<div style="position:absolute;top:902.69px;font-size:11px;line-height:11px;white-space:nowrap;color:#c8294b;letter-spacing:-0.1px;-webkit-text-stroke:0.15px currentColor;right:369px;text-align:right;">97.3 kW</div>
<div style="position:absolute;top:920.69px;font-size:11px;line-height:11px;white-space:nowrap;color:#1f68d2;letter-spacing:-0.1px;-webkit-text-stroke:0.15px currentColor;right:369px;text-align:right;">86.1 kW</div>
<div style="position:absolute;top:938.69px;font-size:11px;line-height:11px;white-space:nowrap;color:#161616;letter-spacing:-0.1px;-webkit-text-stroke:0.15px currentColor;left:173px;">3645.8 rpm (E)</div>
<div style="position:absolute;top:1001.69px;font-size:11px;line-height:11px;white-space:nowrap;color:#161616;letter-spacing:-0.1px;-webkit-text-stroke:0.15px currentColor;left:173px;">2873.8 rpm (E)</div>
<div style="position:absolute;top:983.69px;font-size:11px;line-height:11px;white-space:nowrap;color:#2b8a2f;letter-spacing:-0.1px;-webkit-text-stroke:0.15px currentColor;right:368px;text-align:right;">297.0 Nm</div>
<div style="position:absolute;top:884.69px;font-size:11px;line-height:11px;white-space:nowrap;color:#161616;letter-spacing:-0.1px;-webkit-text-stroke:0.15px currentColor;left:357.5px;">Wheel diameter:</div>
<div style="position:absolute;top:902.69px;font-size:11px;line-height:11px;white-space:nowrap;color:#161616;letter-spacing:-0.1px;-webkit-text-stroke:0.15px currentColor;left:357.5px;">Total weight:</div>
<div style="position:absolute;top:920.69px;font-size:11px;line-height:11px;white-space:nowrap;color:#161616;letter-spacing:-0.1px;-webkit-text-stroke:0.15px currentColor;left:357.5px;">Air temperature:</div>
<div style="position:absolute;top:938.69px;font-size:11px;line-height:11px;white-space:nowrap;color:#161616;letter-spacing:-0.1px;-webkit-text-stroke:0.15px currentColor;left:357.5px;">Barometric pressure:</div>
<div style="position:absolute;top:884.69px;font-size:11px;line-height:11px;white-space:nowrap;color:#161616;letter-spacing:-0.1px;-webkit-text-stroke:0.15px currentColor;right:41px;text-align:right;">66.1</div>
<div style="position:absolute;top:884.69px;font-size:11px;line-height:11px;white-space:nowrap;color:#161616;letter-spacing:-0.1px;-webkit-text-stroke:0.15px currentColor;left:657.5px;">cm</div>
<div style="position:absolute;top:902.69px;font-size:11px;line-height:11px;white-space:nowrap;color:#161616;letter-spacing:-0.1px;-webkit-text-stroke:0.15px currentColor;right:41px;text-align:right;">2003.0</div>
<div style="position:absolute;top:902.69px;font-size:11px;line-height:11px;white-space:nowrap;color:#161616;letter-spacing:-0.1px;-webkit-text-stroke:0.15px currentColor;left:657.5px;">kg</div>
<div style="position:absolute;top:920.69px;font-size:11px;line-height:11px;white-space:nowrap;color:#161616;letter-spacing:-0.1px;-webkit-text-stroke:0.15px currentColor;right:41px;text-align:right;">23.0</div>
<div style="position:absolute;top:920.69px;font-size:11px;line-height:11px;white-space:nowrap;color:#161616;letter-spacing:-0.1px;-webkit-text-stroke:0.15px currentColor;left:657.5px;">&deg;C</div>
<div style="position:absolute;top:938.69px;font-size:11px;line-height:11px;white-space:nowrap;color:#161616;letter-spacing:-0.1px;-webkit-text-stroke:0.15px currentColor;right:41px;text-align:right;">1008.0</div>
<div style="position:absolute;top:938.69px;font-size:11px;line-height:11px;white-space:nowrap;color:#161616;letter-spacing:-0.1px;-webkit-text-stroke:0.15px currentColor;left:657.5px;">mbar</div>
<div style="position:absolute;top:992.69px;font-size:11px;line-height:11px;white-space:nowrap;color:#161616;letter-spacing:-0.1px;-webkit-text-stroke:0.15px currentColor;left:357.5px;">&sup1;Correction according to:</div>
<div style="position:absolute;top:992.69px;font-size:11px;line-height:11px;white-space:nowrap;color:#161616;letter-spacing:-0.1px;-webkit-text-stroke:0.15px currentColor;right:11px;text-align:right;">ECC 80/1269</div>
<div style="position:absolute;top:1027.06px;font-size:8.2px;line-height:8.2px;white-space:nowrap;color:#222;letter-spacing:-0.2px;-webkit-text-stroke:0.15px currentColor;left:11.5px;">RealPower Software Version: 1.4.2.0 / 761691181</div>
<div style="position:absolute;top:1027.06px;font-size:8.2px;line-height:8.2px;white-space:nowrap;color:#222;letter-spacing:-0.15px;-webkit-text-stroke:0.15px currentColor;left:328px;">www.insoric.com</div>
<div style="position:absolute;top:1027.06px;font-size:8.2px;line-height:8.2px;white-space:nowrap;color:#222;-webkit-text-stroke:0.15px currentColor;right:11px;text-align:right;">1/1</div>
</body></html>
